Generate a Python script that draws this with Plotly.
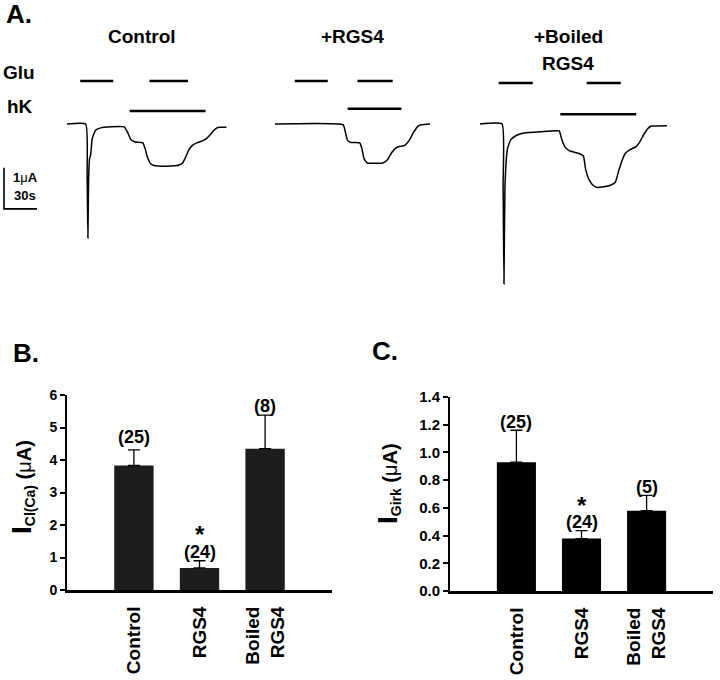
import plotly.graph_objects as go

W, H = 720, 680

# ---- panel A: current traces (time in s, current in uA, relative to baseline)
ctrl_t = [0, 17, 18.3, 19, 19.6, 20.5, 21.5, 23, 26, 30, 40, 52, 55, 58, 62, 69, 71, 73, 76, 80,
          90, 102, 105, 108, 111, 114, 118, 124, 127, 130, 133, 136, 139, 145]
ctrl_i = [0, 0, -1.2, -2.78, -1.4, -0.85, -0.75, -0.35, -0.15, -0.1, -0.07, -0.07, -0.2, -0.38,
          -0.44, -0.46, -0.6, -0.8, -0.97, -1.02, -1.03, -1.0, -0.95, -0.8, -0.62, -0.52, -0.46,
          -0.4, -0.35, -0.27, -0.17, -0.1, -0.08, -0.08]
rgs_t = [0, 62, 64, 66, 69, 77, 79, 81, 84, 98, 102, 106, 110, 113, 118, 122, 126, 130, 133, 141]
rgs_i = [0, -0.02, -0.2, -0.4, -0.45, -0.46, -0.6, -0.85, -0.95, -0.95, -0.88, -0.7, -0.58,
         -0.55, -0.52, -0.4, -0.2, -0.05, -0.02, 0]
boil_t = [0, 20, 21, 21.8, 22.7, 25, 28, 33, 40, 55, 72, 74, 77, 81, 90, 94, 96, 99, 103, 107,
          118, 123, 126, 129, 132, 136, 142, 145, 149, 153, 156, 170]
boil_i = [0, 0, -1.5, -3.9, -1.5, -0.6, -0.38, -0.28, -0.22, -0.19, -0.17, -0.35, -0.55, -0.65,
          -0.72, -0.78, -1.1, -1.35, -1.5, -1.55, -1.5, -1.42, -1.15, -0.9, -0.72, -0.63, -0.55,
          -0.45, -0.25, -0.1, -0.05, -0.04]

# application periods (start, end in s) and the level the bar is drawn at
ctrl_glu = [(12, 42), (75, 110)]
ctrl_hk = (57, 126)
rgs_glu = [(18, 48), (75, 107)]
rgs_hk = (66, 115)
boil_glu = [(17, 48), (97, 128)]
boil_hk = (73, 142)
glu_level = [1.05, 1.05, 1.0]
hk_level = [0.32, 0.37, 0.24]

# ---- panels B and C
groups = ["Control", "RGS4", "Boiled<br>RGS4"]
icl_mean = [3.83, 0.68, 4.35]
icl_top = [4.31, 0.90, 5.38]
icl_n = ["(25)", "(24)", "(8)"]
icl_n_y = [4.7, 1.18, 5.65]
girk_mean = [0.93, 0.378, 0.58]
girk_top = [1.16, 0.436, 0.69]
girk_n = ["(25)", "(24)", "(5)"]
girk_n_y = [1.22, 0.50, 0.75]
star_y = [1.76, 0.63]
icl_ticks = [0, 1, 2, 3, 4, 5, 6]
girk_ticks = [0, 0.2, 0.4, 0.6, 0.8, 1.0, 1.2, 1.4]


def px(x):
    return x / W


def py(y):
    return 1 - y / H


FONT = "Liberation Sans, Arial, sans-serif"
PX_PER_S = 1.1
PX_PER_UA = 41
Y0 = 124  # pixel row of zero current in panel A

fig = go.Figure()

# three x axes for the traces, same time scale
a_axes = [("x", 0, 240, 67), ("x2", 255, 445, 275), ("x3", 460, 715, 480)]
series = [(ctrl_t, ctrl_i, ctrl_glu, ctrl_hk), (rgs_t, rgs_i, rgs_glu, rgs_hk),
          (boil_t, boil_i, boil_glu, boil_hk)]
for k, ((ax, d0, d1, t0px), (t, i, glu, hk)) in enumerate(zip(a_axes, series)):
    fig.add_trace(go.Scatter(x=t, y=i, mode="lines", xaxis=ax, yaxis="y",
                             line=dict(color="black", width=1.5, shape="spline", smoothing=0.4),
                             showlegend=False, hoverinfo="skip"))
    for (s, e) in glu:
        fig.add_trace(go.Scatter(x=[s, e], y=[glu_level[k]] * 2, mode="lines", xaxis=ax, yaxis="y",
                                 line=dict(color="black", width=2.5), showlegend=False))
    fig.add_trace(go.Scatter(x=list(hk), y=[hk_level[k]] * 2, mode="lines", xaxis=ax, yaxis="y",
                             line=dict(color="black", width=2.5), showlegend=False))
    key = "xaxis" if ax == "x" else "xaxis" + ax[1:]
    fig.layout[key] = dict(domain=[px(d0), px(d1)], anchor="y", visible=False, automargin=False,
                           range=[(d0 - t0px) / PX_PER_S, (d1 - t0px) / PX_PER_S])

# scale bar: 30 s x 1 uA
sb_t, sb_i = -57.3, -2.07
fig.add_trace(go.Scatter(x=[sb_t + 30, sb_t, sb_t], y=[sb_i, sb_i, sb_i + 1], mode="lines",
                         xaxis="x", yaxis="y", line=dict(color="black", width=1.6), showlegend=False))

a_top, a_bot = 60, 300
fig.update_layout(yaxis=dict(domain=[py(a_bot), py(a_top)], visible=False, automargin=False,
                             range=[-(a_bot - Y0) / PX_PER_UA, (Y0 - a_top) / PX_PER_UA]))

# panels B and C bars
bar_specs = [("x4", "y2", icl_mean, icl_top, "#1d1d1d"), ("x5", "y3", girk_mean, girk_top, "black")]
for ax, ay, m, top, col in bar_specs:
    fig.add_trace(go.Bar(x=groups, y=m, xaxis=ax, yaxis=ay, width=0.6, marker_color=col,
                         marker_line_width=0, showlegend=False,
                         error_y=dict(type="data", symmetric=False,
                                      array=[a - b for a, b in zip(top, m)],
                                      arrayminus=[0, 0, 0], color="black", thickness=1.3, width=6)))

xcat = dict(type="category", range=[-1.02, 3.02], showline=True, linecolor="black", linewidth=3,
            ticks="", tickangle=-90, ticklabelstandoff=6, automargin=False,
            tickvals=groups, ticktext=["<b>%s</b>" % g for g in groups],
            tickfont=dict(family=FONT, size=19, color="black"), showgrid=False)
ynum = dict(showline=True, linecolor="black", linewidth=2, ticks="outside", ticklen=5, tickwidth=1.5,
            tickcolor="black", showgrid=False, zeroline=False, automargin=False,
            tickfont=dict(family=FONT, size=14, color="black"))
fig.update_layout(
    xaxis4=dict(xcat, domain=[px(67), px(332)], anchor="y2"),
    yaxis2=dict(ynum, domain=[py(590), py(395)], anchor="x4", range=[0, 6],
                tickvals=icl_ticks, ticktext=["<b>%d</b>" % v for v in icl_ticks]),
    xaxis5=dict(xcat, domain=[px(450), px(713)], anchor="y3"),
    yaxis3=dict(ynum, domain=[py(591), py(397)], anchor="x5", range=[0, 1.4],
                tickvals=girk_ticks, ticktext=["<b>%.1f</b>" % v for v in girk_ticks],
                tickfont=dict(family=FONT, size=15, color="black")),
)

ann = []
base = dict(showarrow=False, xanchor="center", yanchor="middle")
bfont = dict(family=FONT, color="black")
for i, (n, y) in enumerate(zip(icl_n, icl_n_y)):
    ann.append(dict(base, x=groups[i], y=y, xref="x4", yref="y2", text="<b>%s</b>" % n,
                    font=dict(bfont, size=18)))
for i, (n, y) in enumerate(zip(girk_n, girk_n_y)):
    ann.append(dict(base, x=groups[i], y=y, xref="x5", yref="y3", text="<b>%s</b>" % n,
                    font=dict(bfont, size=18)))
for (xr, yr), y in zip([("x4", "y2"), ("x5", "y3")], star_y):
    ann.append(dict(base, x=groups[1], y=y, xref=xr, yref=yr, text="<b>*</b>",
                    font=dict(bfont, size=24), yshift=-2))

# y-axis titles
ann.append(dict(base, x=px(22), y=py(487), xref="paper", yref="paper", textangle=-90,
                text="<b><span style='font-size:28px'>I</span><sub>Cl(Ca)</sub> (</b>μ<b>A)</b>",
                font=dict(bfont, size=20)))
ann.append(dict(base, x=px(388), y=py(484), xref="paper", yref="paper", textangle=-90,
                text="<b><span style='font-size:28px'>I</span><sub>Girk</sub> (</b>μ<b>A)</b>",
                font=dict(bfont, size=20)))

# panel letters
for txt, x, y in [("A.", 19, 14), ("B.", 26, 353), ("C.", 385, 351)]:
    ann.append(dict(base, x=px(x), y=py(y), xref="paper", yref="paper", text="<b>%s</b>" % txt,
                    font=dict(bfont, size=26)))

# panel A labels
for txt, x, y in [("Control", 142, 36), ("+RGS4", 352, 36), ("+Boiled", 568, 36), ("RGS4", 568, 63),
                  ("Glu", 19, 73), ("hK", 20, 106)]:
    ann.append(dict(base, x=px(x), y=py(y), xref="paper", yref="paper", text="<b>%s</b>" % txt,
                    font=dict(bfont, size=19)))
for txt, y in [("<b>1</b>μ<b>A</b>", 178), ("<b>30s</b>", 195)]:
    ann.append(dict(base, x=px(25), y=py(y), xref="paper", yref="paper", text=txt,
                    font=dict(bfont, size=13)))

fig.update_layout(width=W, height=H, margin=dict(l=0, r=0, t=0, b=0, autoexpand=False),
                  plot_bgcolor="white", paper_bgcolor="white", annotations=ann, bargap=0.4)
fig.write_html("out.html", config={"displayModeBar": False},
               post_script="document.body.style.margin='0';")
